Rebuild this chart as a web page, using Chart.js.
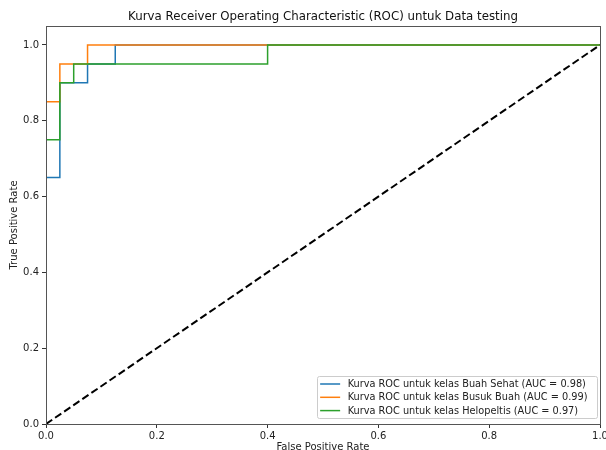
<!DOCTYPE html>
<html lang="id">
<head>
    <meta charset="UTF-8">
    <title>Kurva ROC</title>
    <style>
        html, body { margin: 0; padding: 0; background: #ffffff; }
        #wrap { width: 606px; height: 450px; }
    </style>
    <script src="https://cdn.jsdelivr.net/npm/chart.js"></script>
</head>
<body>
<div id="wrap"><canvas id="rocChart" width="606" height="450"></canvas></div>
<script>
    // data ROC (fpr / tpr) per kelas
    const buahSehatFpr = [0, 0, 0.025, 0.025, 0.075, 0.075, 0.125, 0.125, 1];
    const buahSehatTpr = [0, 0.65, 0.65, 0.9, 0.9, 0.95, 0.95, 1, 1];
    const busukBuahFpr = [0, 0, 0.025, 0.025, 0.075, 0.075, 1];
    const busukBuahTpr = [0, 0.85, 0.85, 0.95, 0.95, 1, 1];
    const helopeltisFpr = [0, 0, 0.025, 0.025, 0.05, 0.05, 0.4, 0.4, 1];
    const helopeltisTpr = [0, 0.75, 0.75, 0.9, 0.9, 0.95, 0.95, 1, 1];
    const diagonalX = [0, 1];
    const diagonalY = [0, 1];

    const classLabels = [
        'Kurva ROC untuk kelas Buah Sehat (AUC = 0.98)',
        'Kurva ROC untuk kelas Busuk Buah (AUC = 0.99)',
        'Kurva ROC untuk kelas Helopeltis (AUC = 0.97)'
    ];
    const chartTitle = 'Kurva Receiver Operating Characteristic (ROC) untuk Data testing';
    const xTicks = [0, 0.2, 0.4, 0.6, 0.8, 1.0];
    const yTicks = [0, 0.2, 0.4, 0.6, 0.8, 1.0];

    function toPoints(xs, ys) {
        return xs.map((x, i) => ({ x: x, y: ys[i] }));
    }

    Chart.defaults.font.family = "'DejaVu Sans', sans-serif";
    Chart.defaults.color = '#222';

    // kotak di sekeliling area plot + judul di tengah area plot
    const frame = {
        id: 'frame',
        afterDatasetsDraw(chart) {
            const a = chart.chartArea;
            const ctx = chart.ctx;
            ctx.save();
            ctx.strokeStyle = '#555';
            ctx.lineWidth = 1;
            ctx.strokeRect(a.left + 0.5, a.top + 0.5, a.right - a.left, a.bottom - a.top);
            ctx.fillStyle = '#111';
            ctx.font = "11.8px 'DejaVu Sans', sans-serif";
            ctx.textAlign = 'center';
            ctx.textBaseline = 'middle';
            ctx.fillText(chartTitle, (a.left + a.right) / 2, 17);
            ctx.restore();
        }
    };

    // legenda di kanan bawah, di dalam area plot
    const innerLegend = {
        id: 'innerLegend',
        afterDraw(chart) {
            const a = chart.chartArea;
            const ctx = chart.ctx;
            const items = chart.data.datasets.filter(d => d.showInLegend);
            ctx.save();
            ctx.font = "9.75px 'DejaVu Sans', sans-serif";
            let textW = 0;
            items.forEach(d => { textW = Math.max(textW, ctx.measureText(d.label).width); });
            const rowH = 13.3;
            const w = 31 + textW + 9;
            const h = 42;
            const x = a.right - 3.5 - w;
            const y = a.bottom - 6 - h;
            ctx.fillStyle = 'rgba(255,255,255,0.8)';
            ctx.strokeStyle = '#cccccc';
            ctx.lineWidth = 1;
            ctx.beginPath();
            ctx.roundRect(Math.round(x) + 0.5, Math.round(y) + 0.5, Math.round(w), h, 2);
            ctx.fill();
            ctx.stroke();
            items.forEach((d, i) => {
                const cy = y + 8 + rowH * i;
                ctx.strokeStyle = d.borderColor;
                ctx.lineWidth = 1.5;
                ctx.beginPath();
                ctx.moveTo(x + 3.5, cy);
                ctx.lineTo(x + 23.5, cy);
                ctx.stroke();
                ctx.fillStyle = '#222';
                ctx.textBaseline = 'middle';
                ctx.fillText(d.label, x + 31, cy + 0.5);
            });
            ctx.restore();
        }
    };

    const ctx = document.getElementById('rocChart').getContext('2d');
    new Chart(ctx, {
        type: 'line',
        data: {
            datasets: [
                { label: classLabels[0], data: toPoints(buahSehatFpr, buahSehatTpr), borderColor: '#1f77b4', order: 3, showInLegend: true },
                { label: classLabels[1], data: toPoints(busukBuahFpr, busukBuahTpr), borderColor: '#ff7f0e', order: 2, showInLegend: true },
                { label: classLabels[2], data: toPoints(helopeltisFpr, helopeltisTpr), borderColor: '#2ca02c', order: 1, showInLegend: true },
                { label: 'diagonal', data: toPoints(diagonalX, diagonalY), borderColor: '#000000', borderWidth: 2, borderDash: [7.5, 3.5], order: 0, showInLegend: false }
            ]
        },
        options: {
            responsive: false,
            animation: false,
            events: [],
            layout: { padding: { left: 0, right: 6, top: 26, bottom: 0 } },
            elements: {
                point: { radius: 0 },
                line: { borderWidth: 1.5, tension: 0, fill: false }
            },
            plugins: {
                legend: { display: false },
                tooltip: { enabled: false },
                title: { display: false }
            },
            scales: {
                x: {
                    type: 'linear',
                    min: 0,
                    max: 1,
                    afterBuildTicks(scale) { scale.ticks = xTicks.map(v => ({ value: v })); },
                    afterFit(scale) {
                        scale.height = 26;
                        scale.paddingLeft = 0;
                        scale.paddingRight = 0;
                    },
                    ticks: { padding: 2, font: { size: 10 }, color: '#222', callback: v => v.toFixed(1), maxRotation: 0 },
                    grid: { drawOnChartArea: false, drawTicks: true, tickLength: 4, color: '#333' },
                    border: { display: false },
                    title: { display: true, text: 'False Positive Rate', font: { size: 10, lineHeight: 1 }, color: '#222', padding: { top: 0, bottom: -2.5 } }
                },
                y: {
                    type: 'linear',
                    min: 0,
                    max: 1.05,
                    afterBuildTicks(scale) { scale.ticks = yTicks.map(v => ({ value: v })); },
                    afterFit(scale) {
                        scale.width = 46;
                        scale.paddingTop = 0;
                        scale.paddingBottom = 0;
                    },
                    ticks: { padding: 3, font: { size: 10 }, color: '#222', callback: v => v.toFixed(1) },
                    grid: { drawOnChartArea: false, drawTicks: true, tickLength: 4, color: '#333' },
                    border: { display: false },
                    title: { display: true, text: 'True Positive Rate', font: { size: 10 }, color: '#222', padding: { top: 8, bottom: 0 } }
                }
            }
        },
        plugins: [frame, innerLegend]
    });
</script>
</body>
</html>
